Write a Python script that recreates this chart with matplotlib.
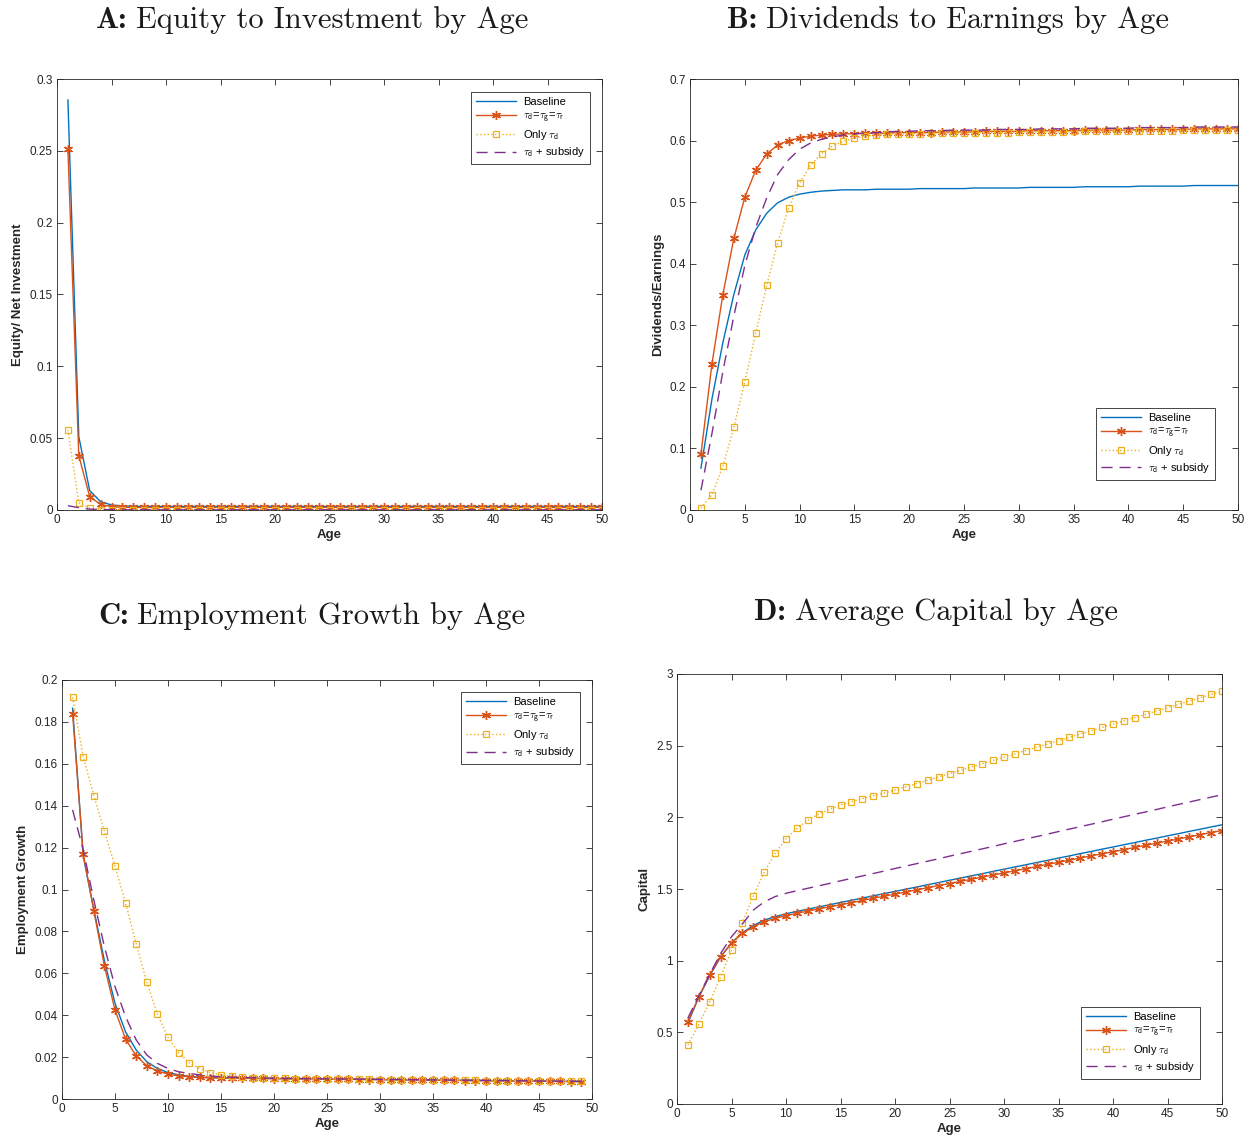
import matplotlib
matplotlib.use("Agg")
import matplotlib.pyplot as plt
from matplotlib.ticker import FuncFormatter, MultipleLocator

# ---------------- DATA ----------------
ages_50 = list(range(1, 51))
ages_49 = list(range(1, 50))

labels = ["Baseline",
          r"$\tau_{\mathsf{d}}$=$\tau_{\mathsf{g}}$=$\tau_{\mathsf{r}}$",
          r"Only $\tau_{\mathsf{d}}$",
          r"$\tau_{\mathsf{d}}$ + subsidy"]

title_tags = ["A:", "B:", "C:", "D:"]
title_texts = ["Equity to Investment by Age", "Dividends to Earnings by Age",
               "Employment Growth by Age", "Average Capital by Age"]

# Panel A: Equity to Investment
a_base = [0.2854, 0.0510, 0.0135, 0.0058, 0.0035, 0.0028, 0.0026, 0.0025, 0.0025, 0.0025,
          0.0025, 0.0025, 0.0025, 0.0025, 0.0025, 0.0025, 0.0025, 0.0025, 0.0025, 0.0025,
          0.0025, 0.0025, 0.0025, 0.0025, 0.0025, 0.0025, 0.0025, 0.0025, 0.0025, 0.0025,
          0.0025, 0.0025, 0.0025, 0.0025, 0.0025, 0.0025, 0.0025, 0.0025, 0.0025, 0.0025,
          0.0025, 0.0025, 0.0025, 0.0025, 0.0025, 0.0025, 0.0025, 0.0025, 0.0025, 0.0025]
a_tau = [0.2513, 0.0378, 0.0093, 0.0039, 0.0023, 0.0019, 0.0018, 0.0018, 0.0018, 0.0018,
         0.0018, 0.0018, 0.0018, 0.0018, 0.0018, 0.0018, 0.0018, 0.0018, 0.0018, 0.0018,
         0.0018, 0.0018, 0.0018, 0.0018, 0.0018, 0.0018, 0.0018, 0.0018, 0.0018, 0.0018,
         0.0018, 0.0018, 0.0018, 0.0018, 0.0018, 0.0018, 0.0018, 0.0018, 0.0018, 0.0018,
         0.0018, 0.0018, 0.0018, 0.0018, 0.0018, 0.0018, 0.0018, 0.0018, 0.0018, 0.0018]
a_only = [0.0557, 0.0051, 0.0012, 0.0003, 0.0001, 0.0000, 0.0000, 0.0000, 0.0000, 0.0000,
          0.0000, 0.0000, 0.0000, 0.0000, 0.0000, 0.0000, 0.0000, 0.0000, 0.0000, 0.0000,
          0.0000, 0.0000, 0.0000, 0.0000, 0.0000, 0.0000, 0.0000, 0.0000, 0.0000, 0.0000,
          0.0000, 0.0000, 0.0000, 0.0000, 0.0000, 0.0000, 0.0000, 0.0000, 0.0000, 0.0000,
          0.0000, 0.0000, 0.0000, 0.0000, 0.0000, 0.0000, 0.0000, 0.0000, 0.0000, 0.0000]
a_sub = [0.0030, 0.0016, 0.0006, 0.0003, 0.0002, 0.0001, 0.0001, 0.0001, 0.0001, 0.0001,
         0.0001, 0.0001, 0.0001, 0.0001, 0.0001, 0.0001, 0.0001, 0.0001, 0.0001, 0.0001,
         0.0001, 0.0001, 0.0001, 0.0001, 0.0001, 0.0001, 0.0001, 0.0001, 0.0001, 0.0001,
         0.0001, 0.0001, 0.0001, 0.0001, 0.0001, 0.0001, 0.0001, 0.0001, 0.0001, 0.0001,
         0.0001, 0.0001, 0.0001, 0.0001, 0.0001, 0.0001, 0.0001, 0.0001, 0.0001, 0.0001]

# Panel B: Dividends to Earnings
b_base = [0.068, 0.180, 0.272, 0.350, 0.414, 0.455, 0.482, 0.499, 0.508, 0.513,
          0.516, 0.518, 0.519, 0.520, 0.520, 0.520, 0.521, 0.521, 0.521, 0.521,
          0.522, 0.522, 0.522, 0.522, 0.522, 0.523, 0.523, 0.523, 0.523, 0.523,
          0.524, 0.524, 0.524, 0.524, 0.524, 0.525, 0.525, 0.525, 0.525, 0.525,
          0.526, 0.526, 0.526, 0.526, 0.526, 0.527, 0.527, 0.527, 0.527, 0.527]
b_tau = [0.091, 0.237, 0.350, 0.441, 0.508, 0.552, 0.578, 0.593, 0.600, 0.604,
         0.607, 0.609, 0.610, 0.611, 0.611, 0.612, 0.612, 0.612, 0.613, 0.613,
         0.613, 0.613, 0.614, 0.614, 0.614, 0.614, 0.615, 0.615, 0.615, 0.615,
         0.616, 0.616, 0.616, 0.616, 0.616, 0.617, 0.617, 0.617, 0.617, 0.617,
         0.618, 0.618, 0.618, 0.618, 0.618, 0.619, 0.619, 0.619, 0.619, 0.619]
b_only = [0.003, 0.025, 0.071, 0.134, 0.208, 0.287, 0.365, 0.434, 0.490, 0.531,
          0.560, 0.579, 0.591, 0.599, 0.604, 0.607, 0.609, 0.610, 0.611, 0.611,
          0.611, 0.612, 0.612, 0.612, 0.612, 0.613, 0.613, 0.613, 0.613, 0.614,
          0.614, 0.614, 0.614, 0.614, 0.615, 0.615, 0.615, 0.615, 0.615, 0.616,
          0.616, 0.616, 0.616, 0.616, 0.617, 0.617, 0.617, 0.617, 0.617, 0.617]
b_sub = [0.032, 0.124, 0.225, 0.315, 0.397, 0.459, 0.507, 0.545, 0.569, 0.586,
         0.596, 0.602, 0.606, 0.609, 0.611, 0.612, 0.613, 0.614, 0.615, 0.615,
         0.616, 0.616, 0.616, 0.617, 0.617, 0.617, 0.617, 0.618, 0.618, 0.618,
         0.618, 0.619, 0.619, 0.619, 0.619, 0.620, 0.620, 0.620, 0.620, 0.620,
         0.621, 0.621, 0.621, 0.621, 0.621, 0.622, 0.622, 0.622, 0.622, 0.622]

# Panel C: Employment Growth (ages 1-49)
c_base = [0.1865, 0.1160, 0.0905, 0.0660, 0.0457, 0.0320, 0.0234, 0.0178, 0.0146, 0.0126,
          0.0115, 0.0108, 0.0104, 0.0102, 0.0101, 0.0100, 0.0099, 0.0099, 0.0098, 0.0098,
          0.0097, 0.0097, 0.0096, 0.0096, 0.0095, 0.0095, 0.0094, 0.0094, 0.0093, 0.0093,
          0.0092, 0.0092, 0.0091, 0.0091, 0.0090, 0.0090, 0.0089, 0.0089, 0.0088, 0.0088,
          0.0087, 0.0087, 0.0086, 0.0086, 0.0085, 0.0085, 0.0084, 0.0084, 0.0083]
c_tau = [0.1840, 0.1170, 0.0899, 0.0635, 0.0425, 0.0286, 0.0205, 0.0159, 0.0134, 0.0119,
         0.0110, 0.0106, 0.0103, 0.0101, 0.0100, 0.0099, 0.0099, 0.0098, 0.0098, 0.0097,
         0.0097, 0.0096, 0.0096, 0.0095, 0.0095, 0.0094, 0.0094, 0.0093, 0.0093, 0.0092,
         0.0092, 0.0091, 0.0091, 0.0090, 0.0090, 0.0089, 0.0089, 0.0088, 0.0088, 0.0087,
         0.0087, 0.0086, 0.0086, 0.0085, 0.0085, 0.0084, 0.0084, 0.0083, 0.0083]
c_only = [0.1917, 0.1634, 0.1448, 0.1278, 0.1112, 0.0934, 0.0741, 0.0557, 0.0404, 0.0294,
          0.0221, 0.0173, 0.0145, 0.0126, 0.0116, 0.0108, 0.0103, 0.0101, 0.0099, 0.0098,
          0.0098, 0.0097, 0.0097, 0.0096, 0.0096, 0.0095, 0.0095, 0.0094, 0.0094, 0.0093,
          0.0093, 0.0092, 0.0092, 0.0091, 0.0091, 0.0090, 0.0090, 0.0089, 0.0089, 0.0088,
          0.0088, 0.0087, 0.0087, 0.0086, 0.0086, 0.0085, 0.0085, 0.0084, 0.0084]
c_sub = [0.1380, 0.1190, 0.0950, 0.0727, 0.0536, 0.0393, 0.0282, 0.0210, 0.0170, 0.0146,
         0.0130, 0.0122, 0.0115, 0.0110, 0.0106, 0.0104, 0.0102, 0.0101, 0.0100, 0.0099,
         0.0098, 0.0098, 0.0097, 0.0097, 0.0096, 0.0096, 0.0095, 0.0095, 0.0094, 0.0094,
         0.0093, 0.0093, 0.0092, 0.0092, 0.0091, 0.0091, 0.0090, 0.0090, 0.0089, 0.0089,
         0.0088, 0.0088, 0.0087, 0.0087, 0.0086, 0.0086, 0.0085, 0.0085, 0.0084]

# Panel D: Average Capital
d_base = [0.565, 0.745, 0.895, 1.025, 1.125, 1.195, 1.245, 1.283, 1.307, 1.327,
          1.344, 1.359, 1.375, 1.390, 1.406, 1.421, 1.437, 1.452, 1.468, 1.483,
          1.499, 1.514, 1.530, 1.545, 1.561, 1.576, 1.592, 1.607, 1.623, 1.638,
          1.654, 1.669, 1.685, 1.700, 1.716, 1.731, 1.747, 1.762, 1.778, 1.793,
          1.809, 1.824, 1.840, 1.855, 1.871, 1.886, 1.902, 1.917, 1.933, 1.948]
d_tau = [0.574, 0.749, 0.900, 1.028, 1.121, 1.190, 1.237, 1.272, 1.295, 1.314,
         1.330, 1.346, 1.361, 1.376, 1.390, 1.405, 1.420, 1.435, 1.450, 1.464,
         1.479, 1.494, 1.509, 1.524, 1.538, 1.553, 1.568, 1.583, 1.598, 1.612,
         1.627, 1.642, 1.657, 1.672, 1.686, 1.701, 1.716, 1.731, 1.746, 1.760,
         1.775, 1.790, 1.805, 1.820, 1.834, 1.849, 1.864, 1.879, 1.894, 1.908]
d_only = [0.412, 0.556, 0.712, 0.886, 1.072, 1.265, 1.451, 1.616, 1.749, 1.849,
          1.923, 1.979, 2.023, 2.056, 2.086, 2.109, 2.130, 2.150, 2.170, 2.190,
          2.213, 2.236, 2.259, 2.282, 2.305, 2.328, 2.351, 2.374, 2.397, 2.420,
          2.443, 2.466, 2.489, 2.512, 2.535, 2.558, 2.581, 2.604, 2.627, 2.650,
          2.673, 2.696, 2.719, 2.742, 2.765, 2.788, 2.811, 2.834, 2.857, 2.880]
d_sub = [0.600, 0.755, 0.905, 1.050, 1.167, 1.256, 1.353, 1.410, 1.447, 1.470,
         1.488, 1.505, 1.522, 1.539, 1.557, 1.574, 1.591, 1.608, 1.625, 1.643,
         1.660, 1.677, 1.694, 1.711, 1.729, 1.746, 1.763, 1.780, 1.797, 1.815,
         1.832, 1.849, 1.866, 1.883, 1.901, 1.918, 1.935, 1.952, 1.969, 1.987,
         2.004, 2.021, 2.038, 2.055, 2.073, 2.090, 2.107, 2.124, 2.141, 2.158]

# ---------------- STYLE ----------------
plt.rcParams["font.family"] = ["Liberation Sans", "DejaVu Sans"]
plt.rcParams["mathtext.fontset"] = "cm"

C_BASE = "#0072BD"
C_TAU = "#D95319"
C_ONLY = "#EDB120"
C_SUB = "#7E2F8E"
AX_COL = "#262626"

W, H = 1252, 1144
fig = plt.figure(figsize=(W / 100, H / 100), dpi=100)


def box(l, t, r, b):
    return [l / W, 1 - b / H, (r - l) / W, (b - t) / H]


def fmt(v, pos):
    return ("%g" % round(v, 6))


def setup(ax, xmax, ymax, ystep, ylabel):
    ax.set_xlim(0, xmax)
    ax.set_ylim(0, ymax)
    ax.xaxis.set_major_locator(MultipleLocator(5))
    ax.yaxis.set_major_locator(MultipleLocator(ystep))
    ax.xaxis.set_major_formatter(FuncFormatter(fmt))
    ax.yaxis.set_major_formatter(FuncFormatter(fmt))
    ax.tick_params(direction="in", top=True, right=True, length=4, width=0.6,
                   labelsize=8.5, colors=AX_COL, pad=3)
    for s in ax.spines.values():
        s.set_linewidth(0.6)
        s.set_color(AX_COL)
    ax.set_xlabel("Age", fontsize=9.5, fontweight="bold", color=AX_COL, labelpad=2)
    ax.set_ylabel(ylabel, fontsize=9.5, fontweight="bold", color=AX_COL, labelpad=4)


ASTER = (6, 2, 0)


def plot_series(ax, x, base, tau, only, sub):
    ax.plot(x, base, color=C_BASE, lw=1.0, label=labels[0])
    ax.plot(x, tau, color=C_TAU, lw=1.0, marker=ASTER, ms=6.5, mew=1.0, label=labels[1])
    ax.plot(x, only, color=C_ONLY, lw=1.0, ls=":", marker="s", ms=4.5, mfc="none",
            mew=0.9, label=labels[2])
    ax.plot(x, sub, color=C_SUB, lw=1.0, ls=(0, (8, 5)), label=labels[3])


def legend(ax, loc, anchor):
    leg = ax.legend(loc=loc, bbox_to_anchor=anchor, fontsize=8, frameon=True,
                    fancybox=False, edgecolor=AX_COL, framealpha=1, handlelength=3.6,
                    borderpad=0.45, labelspacing=0.3, handletextpad=0.6,
                    borderaxespad=0.0)
    leg.get_frame().set_linewidth(0.6)


axA = fig.add_axes(box(57, 79, 602, 510))
plot_series(axA, ages_50, a_base, a_tau, a_only, a_sub)
setup(axA, 50, 0.3, 0.05, "Equity/ Net Investment")
legend(axA, "upper right", (1 - 12 / 545, 1 - 13 / 431))

axB = fig.add_axes(box(690, 79, 1238, 510))
plot_series(axB, ages_50, b_base, b_tau, b_only, b_sub)
setup(axB, 50, 0.7, 0.1, "Dividends/Earnings")
legend(axB, "lower right", (1 - 23 / 548, 30 / 431))

axC = fig.add_axes(box(62, 680, 592, 1099))
plot_series(axC, ages_49, c_base, c_tau, c_only, c_sub)
setup(axC, 50, 0.2, 0.02, "Employment Growth")
legend(axC, "upper right", (1 - 12 / 530, 1 - 12 / 419))

axD = fig.add_axes(box(677, 674, 1222, 1104))
plot_series(axD, ages_50, d_base, d_tau, d_only, d_sub)
setup(axD, 50, 3.0, 0.5, "Capital")
legend(axD, "lower right", (1 - 22 / 545, 25 / 430))

# Titles: bold tag + roman text, centered as a group
renderer = fig.canvas.get_renderer()
title_pos = [(312, 20), (948, 20), (312, 616), (936, 612)]
TSIZE = 22
for (cx, cy), tag, txt in zip(title_pos, title_tags, title_texts):
    t1 = fig.text(0, 1 - cy / H, tag, ha="left", va="center", fontsize=TSIZE,
                  family="cmb10", color="#1a1a1a")
    t2 = fig.text(0, 1 - cy / H, txt, ha="left", va="center", fontsize=TSIZE,
                  family="cmr10", color="#1a1a1a")
    w1 = t1.get_window_extent(renderer).width
    w2 = t2.get_window_extent(renderer).width
    gap = TSIZE * 0.38
    total = w1 + gap + w2
    x0 = cx - total / 2
    t1.set_x(x0 / W)
    t2.set_x((x0 + w1 + gap) / W)

fig.savefig("out.png", dpi=100)
